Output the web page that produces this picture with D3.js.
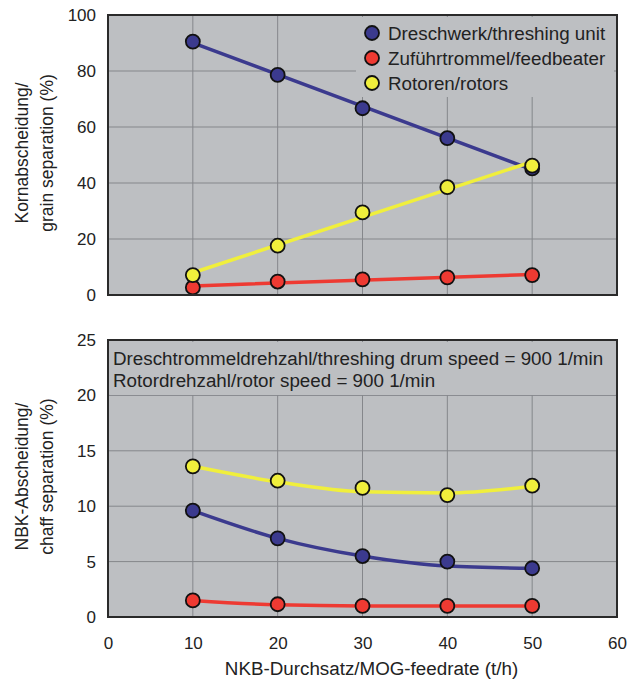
<!DOCTYPE html>
<html>
<head>
<meta charset="utf-8">
<script src="https://cdn.jsdelivr.net/npm/d3@7/dist/d3.min.js"></script>
<style>
  html, body { margin: 0; padding: 0; background: #fff; }
  svg { display: block; font-family: "Liberation Sans", Arial, sans-serif; }
</style>
</head>
<body>
<svg id="chart" width="629" height="691"></svg>
<script>
/* --- data ---------------------------------------------------------------- */
const feedrate = [10, 20, 30, 40, 50];          // t/h
const seriesNames = ['Dreschwerk/threshing unit', 'Zuführtrommel/feedbeater', 'Rotoren/rotors'];
const seriesColors = ['#3b3a8e', '#ee3a32', '#f0ef3c'];

// Kornabscheidung / grain separation (%)
const grainThreshing = [90.5, 78.6, 66.7, 56.0, 45.2];
const grainFeedbeater = [2.7, 4.8, 5.6, 6.3, 7.1];
const grainRotors = [7.1, 17.6, 29.5, 38.5, 46.2];

// NBK-Abscheidung / chaff separation (%)
const chaffThreshing = [9.6, 7.1, 5.5, 5.0, 4.4];
const chaffFeedbeater = [1.5, 1.15, 1.0, 1.0, 1.0];
const chaffRotors = [13.6, 12.3, 11.65, 11.0, 11.85];
// fitted curves (bottom panel)
const chaffThreshingFit = [9.6, 7.1, 5.5, 4.6, 4.4];
const chaffFeedbeaterFit = [1.5, 1.1, 1.0, 1.0, 1.0];
const chaffRotorsFit = [13.6, 12.2, 11.3, 11.2, 11.8];

const xTicks = [0, 10, 20, 30, 40, 50, 60];
const grainTicks = [0, 20, 40, 60, 80, 100];
const chaffTicks = [0, 5, 10, 15, 20, 25];

/* --- layout -------------------------------------------------------------- */
const svg = d3.select('#chart');
const left = 108, right = 617;
const BG = '#bdbfc2', GRID = '#85878b', FRAME = '#2a2a2a', INK = '#222';
const FS_TEXT = 18.8, FS_TICK = 17, FS_YTITLE = 17.5;

const x = d3.scaleLinear().domain([0, 60]).range([left, right]);

/* linear fit, used for the straight lines of the top panel */
function linfit(xs, ys) {
  const mx = d3.mean(xs), my = d3.mean(ys);
  const b = d3.sum(xs, (v, i) => (v - mx) * (ys[i] - my)) / d3.sum(xs, v => (v - mx) * (v - mx));
  return xs.map(v => my + b * (v - mx));
}

function panel(opts) {
  const y = d3.scaleLinear().domain(opts.domain).range([opts.bottom, opts.top]);
  const g = svg.append('g');

  g.append('rect')
    .attr('x', left).attr('y', opts.top)
    .attr('width', right - left).attr('height', opts.bottom - opts.top)
    .attr('fill', BG);

  // grid
  g.append('g').selectAll('line').data(xTicks.slice(1, -1)).join('line')
    .attr('x1', d => x(d)).attr('x2', d => x(d))
    .attr('y1', opts.top).attr('y2', opts.bottom)
    .attr('stroke', GRID).attr('stroke-width', 1);
  g.append('g').selectAll('line').data(opts.ticks.slice(1, -1)).join('line')
    .attr('x1', left).attr('x2', right)
    .attr('y1', d => y(d)).attr('y2', d => y(d))
    .attr('stroke', GRID).attr('stroke-width', 1);

  // y axis tick labels
  const yAxis = d3.axisLeft(y).tickValues(opts.ticks).tickSize(0).tickPadding(12);
  const ya = g.append('g').attr('transform', 'translate(' + left + ',0)').call(yAxis);
  ya.select('.domain').remove();
  ya.selectAll('text').attr('font-size', FS_TICK).attr('fill', INK)
    .attr('font-family', '"Liberation Sans", Arial, sans-serif');

  // y title (two lines, rotated)
  const cy = (opts.top + opts.bottom) / 2 - 2;
  opts.title.forEach(function (t, i) {
    g.append('text')
      .attr('transform', 'translate(' + (28 + i * 25) + ',' + cy + ') rotate(-90)')
      .attr('text-anchor', 'middle')
      .attr('font-size', FS_YTITLE).attr('fill', INK)
      .text(t);
  });

  return { g: g, y: y };
}

function drawLine(p, xs, vals, color, curve) {
  const line = d3.line().x((d, i) => x(xs[i])).y(d => p.y(d)).curve(curve);
  p.g.append('path').datum(vals)
    .attr('d', line).attr('fill', 'none')
    .attr('stroke', color).attr('stroke-width', 3.5).attr('stroke-linecap', 'round');
}

function drawPoints(p, xs, vals, color) {
  p.g.append('g').selectAll('circle').data(vals).join('circle')
    .attr('cx', (d, i) => x(xs[i])).attr('cy', d => p.y(d)).attr('r', 7)
    .attr('fill', color).attr('stroke', '#111').attr('stroke-width', 1.8);
}

function frame(p, t, b) {
  p.g.append('rect')
    .attr('x', left).attr('y', t)
    .attr('width', right - left).attr('height', b - t)
    .attr('fill', 'none').attr('stroke', FRAME).attr('stroke-width', 2);
}

/* --- top panel: grain separation ---------------------------------------- */
const pTop = panel({ top: 15, bottom: 295, domain: [0, 100], ticks: grainTicks,
  title: ['Kornabscheidung/', 'grain separation (%)'] });

// legend (grey box hides grid behind it)
const leg = pTop.g.append('g');
leg.append('rect').attr('x', 356).attr('y', 17).attr('width', 258).attr('height', 80).attr('fill', BG);

const grainSets = [grainThreshing, grainFeedbeater, grainRotors];
[1, 0, 2].forEach(function (k) {
  const f = linfit(feedrate, grainSets[k]);
  drawLine(pTop, [10, 50], [f[0], f[4]], seriesColors[k], d3.curveLinear);
  drawPoints(pTop, feedrate, grainSets[k], seriesColors[k]);
});

seriesNames.forEach(function (name, i) {
  const ly = 33 + i * 25;
  leg.append('circle').attr('cx', 372).attr('cy', ly).attr('r', 7)
    .attr('fill', seriesColors[i]).attr('stroke', '#111').attr('stroke-width', 1.8);
  leg.append('text').attr('x', 388).attr('y', ly).attr('dy', '0.36em')
    .attr('font-size', FS_TEXT).attr('fill', INK).text(name);
});
frame(pTop, 15, 295);

/* --- bottom panel: chaff separation ------------------------------------- */
const pBot = panel({ top: 340, bottom: 617, domain: [0, 25], ticks: chaffTicks,
  title: ['NBK-Abscheidung/', 'chaff separation (%)'] });

const ann = pBot.g.append('g');
ann.append('rect').attr('x', 110).attr('y', 342).attr('width', 505).attr('height', 53).attr('fill', BG);
['Dreschtrommeldrehzahl/threshing drum speed = 900 1/min', 'Rotordrehzahl/rotor speed = 900 1/min']
  .forEach(function (t, i) {
    ann.append('text').attr('x', 113).attr('y', 358 + i * 22).attr('dy', '0.36em')
      .attr('font-size', FS_TEXT).attr('fill', INK).text(t);
  });

const chaffFits = [chaffThreshingFit, chaffFeedbeaterFit, chaffRotorsFit];
const chaffPts = [chaffThreshing, chaffFeedbeater, chaffRotors];
[0, 1, 2].forEach(function (k) {
  drawLine(pBot, feedrate, chaffFits[k], seriesColors[k], d3.curveMonotoneX);
  drawPoints(pBot, feedrate, chaffPts[k], seriesColors[k]);
});
frame(pBot, 340, 617);

// x axis
const xAxis = d3.axisBottom(x).tickValues(xTicks).tickSize(0).tickPadding(20);
const xa = svg.append('g').attr('transform', 'translate(0,617)').call(xAxis);
xa.select('.domain').remove();
xa.selectAll('text').attr('font-size', FS_TICK).attr('fill', INK)
  .attr('font-family', '"Liberation Sans", Arial, sans-serif');

svg.append('text')
  .attr('x', (225 + 518) / 2).attr('y', 675)
  .attr('text-anchor', 'middle').attr('font-size', FS_TEXT).attr('fill', INK)
  .text('NKB-Durchsatz/MOG-feedrate (t/h)');
</script>
</body>
</html>
